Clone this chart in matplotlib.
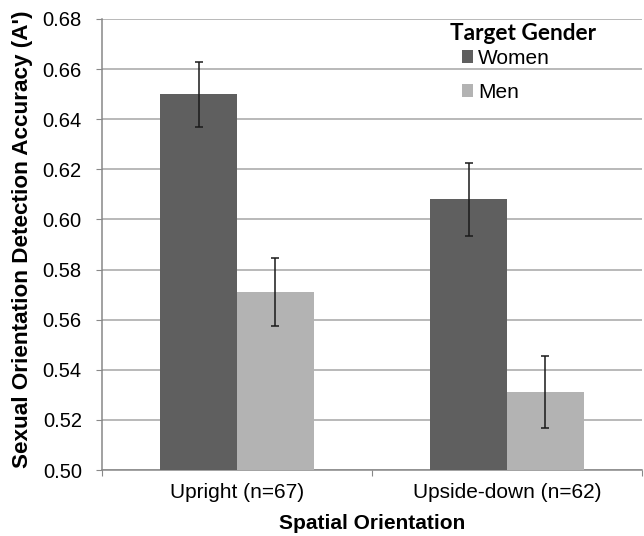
import matplotlib
matplotlib.use("Agg")
import matplotlib.pyplot as plt
import numpy as np

# Detection accuracy (A') by spatial orientation and target gender
categories = ["Upright (n=67)", "Upside-down (n=62)"]
series_names = ["Women", "Men"]
women_means = [0.650, 0.608]
men_means = [0.571, 0.531]
women_err = [0.013, 0.0146]
men_err = [0.0135, 0.0143]
y_ticks = [0.50, 0.52, 0.54, 0.56, 0.58, 0.60, 0.62, 0.64, 0.66, 0.68]

plt.rcParams["font.family"] = ["Liberation Sans", "DejaVu Sans"]

fig = plt.figure(figsize=(6.44, 5.36), dpi=100)
ax = fig.add_axes([102 / 644, 66 / 536, 540 / 644, 451 / 536])

x = np.arange(len(categories))
w = 0.285
colors = ["#5f5f5f", "#b3b3b3"]
err_kw = dict(ecolor="#1a1a1a", elinewidth=1.1, capsize=3, capthick=1.1)

b1 = ax.bar(x - w / 2, women_means, w, color=colors[0], yerr=women_err,
            error_kw=err_kw, zorder=3, label=series_names[0])
b2 = ax.bar(x + w / 2, men_means, w, color=colors[1], yerr=men_err,
            error_kw=err_kw, zorder=3, label=series_names[1])

ax.set_ylim(0.50, 0.68)
ax.set_xlim(-0.5, 1.5)
ax.set_yticks(y_ticks)
ax.set_yticklabels([f"{v:.2f}" for v in y_ticks], fontsize=14.5)
ax.yaxis.grid(True, color="#a6a6a6", linewidth=1.1, zorder=0)
ax.set_axisbelow(True)

# category labels centred, tick marks at category boundaries
ax.set_xticks([-0.5, 0.5, 1.5])
ax.set_xticklabels([])
ax.set_xticks(x, minor=True)
ax.set_xticklabels(categories, minor=True, fontsize=15)
ax.tick_params(axis="x", which="minor", length=0, pad=9)
ax.tick_params(axis="x", which="major", length=4, color="#888888")
ax.tick_params(axis="y", length=4, color="#888888", pad=10.5)

for s in ["top", "right"]:
    ax.spines[s].set_visible(False)
for s in ["left", "bottom"]:
    ax.spines[s].set_color("#888888")
    ax.spines[s].set_linewidth(1.1)

ax.set_xlabel("Spatial Orientation", fontsize=15, fontweight="bold", labelpad=9)
ax.set_ylabel("Sexual Orientation Detection Accuracy (A')", fontsize=16.2,
              fontweight="bold", labelpad=2)
ax.yaxis.set_label_coords(-(102 - 33) / 540, 0.512)

fig.text(450 / 644, 1 - 33 / 536, "Target Gender", fontsize=16.3,
         fontweight="bold", family=["Lato", "DejaVu Sans"], va="center", ha="left")
ax.legend(handles=[b1, b2], labels=series_names, loc="upper left",
          bbox_to_anchor=(462 / 644, 1 - 49 / 536), bbox_transform=fig.transFigure,
          frameon=False, fontsize=15, handlelength=0.53, handleheight=0.53,
          handletextpad=0.24, labelspacing=0.72, borderpad=0, borderaxespad=0)

fig.savefig("out.png", dpi=100)
